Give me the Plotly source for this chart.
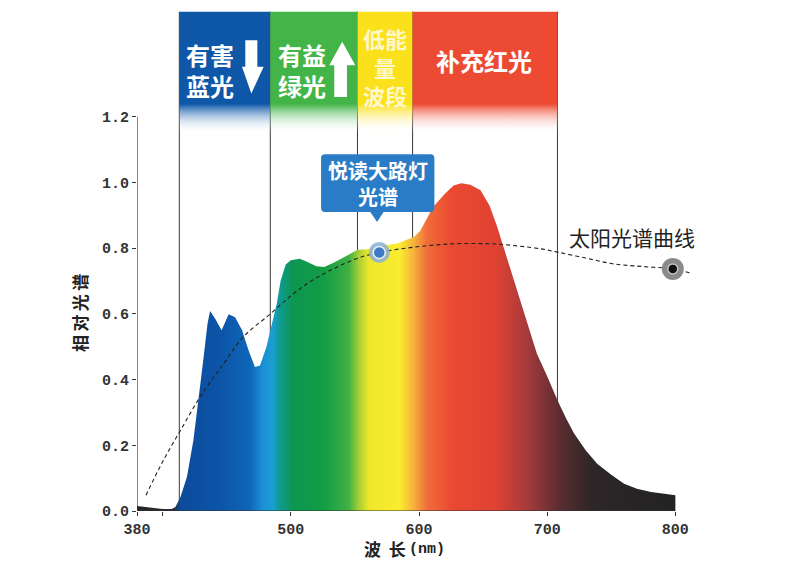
import plotly.graph_objects as go

# LED lamp relative spectrum
wavelength = [380, 390, 400, 407, 410, 414, 419, 424, 428, 432, 435, 437, 441, 446,
              451.5, 456.5, 462, 467, 472, 476, 481, 485, 489, 492, 496, 500, 507,
              513, 520, 526, 533, 544, 552, 560, 570, 583, 596, 601, 611, 620, 627,
              633, 640, 648, 655, 661, 667, 674, 683, 692, 700, 708, 715, 721, 730,
              739, 750, 760, 770, 781, 790, 800]
intensity = [0.015, 0.01, 0.006, 0.006, 0.012, 0.043, 0.104, 0.215, 0.337, 0.469, 0.570,
             0.609, 0.585, 0.55, 0.599, 0.59, 0.55, 0.489, 0.438, 0.443, 0.50, 0.57,
             0.631, 0.70, 0.75, 0.763, 0.768, 0.758, 0.745, 0.743, 0.755, 0.778, 0.795,
             0.797, 0.807, 0.814, 0.834, 0.853, 0.925, 0.965, 0.991, 0.998, 0.993,
             0.976, 0.93, 0.865, 0.79, 0.702, 0.59, 0.479, 0.41, 0.337, 0.28, 0.236,
             0.185, 0.144, 0.11, 0.083, 0.068, 0.058, 0.053, 0.048]

# sunlight reference curve (dashed)
sun_wl = [387, 400, 414, 430, 447, 463, 484, 500, 518, 549, 569, 596, 625, 648, 663,
          695, 708, 730, 752, 775, 798, 813]
sun_val = [0.048, 0.15, 0.246, 0.352, 0.445, 0.53, 0.60, 0.655, 0.705, 0.765, 0.787,
           0.803, 0.813, 0.814, 0.812, 0.798, 0.788, 0.77, 0.752, 0.744, 0.737, 0.723]

led_point = (569, 0.787)
sun_point = (798, 0.737)

# wavelength bands on top
band_edges = [413, 484, 552, 595, 708]
band_colors = ['#0f58a8', '#43b548', '#fbe11c', '#ec4a33']
band_labels = ['有害<br>蓝光', '有益<br>绿光', '低能<br>量<br>波段', '补充红光']
band_label_x = [437, 509, 573.7, 651]
band_label_y = [1.342, 1.342, 1.352, 1.371]

x_ticks = [380, 400, 500, 600, 700, 800]
x_ticktext = ['380', '', '500', '600', '700', '800']
y_ticks = [0, 0.2, 0.4, 0.6, 0.8, 1.0, 1.2]

spectrum_scale = [
    [0.0, '#262626'], [0.066, '#2a2a35'], [0.081, '#0d4a9a'], [0.155, '#0c55a8'],
    [0.210, '#0f66b8'], [0.233, '#1b8ed6'], [0.252, '#1a9fd0'], [0.267, '#0f9a8c'],
    [0.290, '#0c9650'], [0.345, '#129c44'], [0.393, '#3fb044'], [0.412, '#a7cf35'],
    [0.431, '#eee82c'], [0.488, '#fbec2e'], [0.514, '#f6b23c'], [0.538, '#f06e3a'],
    [0.583, '#ea4a30'], [0.667, '#df4232'], [0.726, '#a43a3c'], [0.786, '#5a2c30'],
    [0.845, '#2d2628'], [1.0, '#232323'],
]

band_bottom, band_top = 1.15, 1.52
cjk = 'Noto Sans CJK SC'
mono = 'Liberation Mono'

fig = go.Figure()

# band divider lines
for e in band_edges:
    fig.add_shape(type='line', x0=e, x1=e, y0=0, y1=band_top,
                  line=dict(color='#3a3a3a', width=1), layer='below')

# coloured band blocks fading to white
for i, col in enumerate(band_colors):
    a, b = band_edges[i], band_edges[i + 1]
    fig.add_trace(go.Scatter(
        x=[a, b, b, a, a],
        y=[band_bottom, band_bottom, band_top, band_top, band_bottom],
        mode='lines', line=dict(width=0), fill='toself',
        fillgradient=dict(type='vertical', start=band_bottom, stop=band_top,
                          colorscale=[[0, 'rgba(255,255,255,0)'], [0.24, col], [1, col]]),
        hoverinfo='skip', showlegend=False))

# LED spectrum
fig.add_trace(go.Scatter(
    x=wavelength, y=intensity, mode='lines', line=dict(width=0, color='#444'),
    fill='tozeroy',
    fillgradient=dict(type='horizontal', start=380, stop=800, colorscale=spectrum_scale),
    hoverinfo='skip', showlegend=False))

# sunlight curve
fig.add_trace(go.Scatter(
    x=sun_wl, y=sun_val, mode='lines',
    line=dict(color='#222222', width=1.1, dash='4px,3px', shape='spline', smoothing=1),
    hoverinfo='skip', showlegend=False))

# markers
fig.add_trace(go.Scatter(x=[led_point[0]], y=[led_point[1]], mode='markers',
                         marker=dict(size=21, color='rgba(140,175,215,0.85)'),
                         hoverinfo='skip', showlegend=False, cliponaxis=False))
fig.add_trace(go.Scatter(x=[led_point[0]], y=[led_point[1]], mode='markers',
                         marker=dict(size=12, color='#3d7cc4', line=dict(color='#e8f0fa', width=1.5)),
                         hoverinfo='skip', showlegend=False, cliponaxis=False))
fig.add_trace(go.Scatter(x=[sun_point[0]], y=[sun_point[1]], mode='markers',
                         marker=dict(size=22, color='#8a8a8a'),
                         hoverinfo='skip', showlegend=False, cliponaxis=False))
fig.add_trace(go.Scatter(x=[sun_point[0]], y=[sun_point[1]], mode='markers',
                         marker=dict(size=10, color='#111111', line=dict(color='#c4c4c4', width=1.5)),
                         hoverinfo='skip', showlegend=False, cliponaxis=False))

# white arrows in the bands
fig.add_shape(type='path', layer='above', line=dict(width=0), fillcolor='white',
              path='M 464.5,1.433 L 473.9,1.433 L 473.9,1.352 L 478.8,1.352 L 469.2,1.271 '
                   'L 461.9,1.352 L 464.5,1.352 Z')
fig.add_shape(type='path', layer='above', line=dict(width=0), fillcolor='white',
              path='M 533.9,1.260 L 543.8,1.260 L 543.8,1.357 L 550.3,1.357 L 540.1,1.428 '
                   'L 530.0,1.357 L 533.9,1.357 Z')

# callout box
x0, x1, yt, yb = 523.6, 612.0, 1.086, 0.910
rx, ry = 3.0, 0.012
callout = (f'M {x0+rx},{yt} L {x1-rx},{yt} Q {x1},{yt} {x1},{yt-ry} L {x1},{yb+ry} '
           f'Q {x1},{yb} {x1-rx},{yb} L 572.4,{yb} L 567.3,0.880 L 562.0,{yb} '
           f'L {x0+rx},{yb} Q {x0},{yb} {x0},{yb+ry} L {x0},{yt-ry} Q {x0},{yt} {x0+rx},{yt} Z')
fig.add_shape(type='path', path=callout, layer='above', line=dict(width=0), fillcolor='#2b7cc6')

# axis lines
fig.add_shape(type='line', x0=380, x1=380, y0=0, y1=1.2, line=dict(color='#333', width=1.2), layer='above')
fig.add_shape(type='line', x0=380, x1=800, y0=0, y1=0, line=dict(color='#333', width=1.2), layer='above')

annotations = []
for txt, bx, by, i in zip(band_labels, band_label_x, band_label_y, range(4)):
    annotations.append(dict(
        x=bx, y=by, text=txt, showarrow=False,
        font=dict(family=cjk, size=24 if i != 2 else 22,
                  color='#fff8cc' if i == 2 else 'white', weight='bold')))
annotations += [
    dict(x=567.8, y=0.998, text='悦读大路灯<br>光谱', showarrow=False,
         font=dict(family=cjk, size=20, color='white', weight='bold')),
    dict(x=766, y=0.834, text='太阳光谱曲线', showarrow=False,
         font=dict(family=cjk, size=21, color='#222')),
    dict(x=-0.101, xref='paper', xanchor='center', y=0.603, text='相\u2009对\u2009光\u2009谱',
         textangle=-90, showarrow=False,
         font=dict(family=cjk, size=17, color='#222', weight='bold')),
    dict(x=573.5, y=-0.075, yref='paper', yanchor='middle', showarrow=False, text='波\u00a0\u00a0长',
         font=dict(family=cjk, size=17, color='#222', weight='bold')),
    dict(x=606, y=-0.077, yref='paper', yanchor='middle', showarrow=False, text='(nm)',
         font=dict(family=mono, size=15, color='#222', weight='bold')),
]

fig.update_layout(
    width=790, height=563,
    margin=dict(l=129, r=97, t=2, b=60),
    plot_bgcolor='white', paper_bgcolor='white',
    showlegend=False, hovermode=False,
    annotations=annotations,
    xaxis=dict(range=[380, 820], showgrid=False, zeroline=False, showline=False,
               tickvals=x_ticks, ticktext=x_ticktext, ticks='outside', ticklen=4,
               tickcolor='#333', tickfont=dict(family=mono, size=15, color='#333', weight='bold')),
    yaxis=dict(range=[0, 1.525], showgrid=False, zeroline=False, showline=False,
               tickvals=y_ticks, ticktext=[f'{v:.1f}' for v in y_ticks], ticks='outside',
               ticklen=4, tickcolor='#333',
               tickfont=dict(family=mono, size=15, color='#333', weight='bold')),
)

fig.write_html('out.html')
